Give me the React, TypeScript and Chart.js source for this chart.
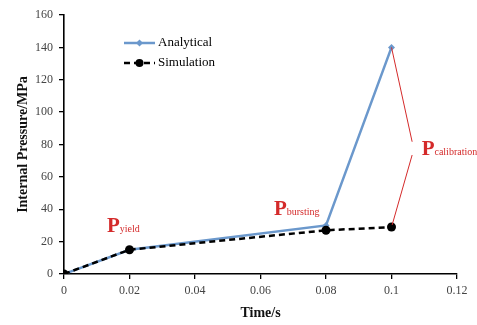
import React, { useEffect, useRef } from "react";
import { Chart, registerables } from "chart.js";

Chart.register(...registerables);

const times = [0, 0.02, 0.08, 0.1];
const analytical = [0, 15, 30, 140];
const simulation = [0, 15, 27, 29];
const xTicks = [0, 0.02, 0.04, 0.06, 0.08, 0.1, 0.12];
const yTicks = [0, 20, 40, 60, 80, 100, 120, 140, 160];

const seriesNames = ["Analytical", "Simulation"];
const annotations = [
  { x: 0.0131, y: 25.9, main: "P", sub: "yield" },
  { x: 0.0641, y: 36.4, main: "P", sub: "bursting" },
  { x: 0.1092, y: 73.5, main: "P", sub: "calibration" },
];
const calibLines = [
  [0.1, 140, 0.1063, 81.7],
  [0.1063, 73.5, 0.1002, 30.3],
];

const RED = "#d42a2a";
const BLUE = "#6b98cc";
const SERIF = "'Liberation Serif', 'DejaVu Serif', serif";

const overlayPlugin = {
  id: "overlay",
  afterDatasetsDraw(chart: any) {
    const ctx = chart.ctx;
    const xs = chart.scales.x;
    const ys = chart.scales.y;
    ctx.save();
    ctx.strokeStyle = RED;
    ctx.lineWidth = 1;
    for (const l of calibLines) {
      ctx.beginPath();
      ctx.moveTo(xs.getPixelForValue(l[0]), ys.getPixelForValue(l[1]));
      ctx.lineTo(xs.getPixelForValue(l[2]), ys.getPixelForValue(l[3]));
      ctx.stroke();
    }
    ctx.fillStyle = RED;
    ctx.textBaseline = "alphabetic";
    ctx.textAlign = "left";
    for (const a of annotations) {
      const px = xs.getPixelForValue(a.x);
      const py = ys.getPixelForValue(a.y);
      ctx.font = `bold 21px ${SERIF}`;
      ctx.fillText(a.main, px, py);
      const w = ctx.measureText(a.main).width;
      ctx.font = `10px ${SERIF}`;
      ctx.fillText(a.sub, px + w, py);
    }
    const lx = 124, lw = 31;
    const rows = [43, 63];
    ctx.strokeStyle = BLUE;
    ctx.lineWidth = 2.5;
    ctx.setLineDash([]);
    ctx.beginPath();
    ctx.moveTo(lx, rows[0]);
    ctx.lineTo(lx + lw, rows[0]);
    ctx.stroke();
    ctx.fillStyle = BLUE;
    ctx.beginPath();
    const cx = lx + lw / 2;
    ctx.moveTo(cx, rows[0] - 3.5);
    ctx.lineTo(cx + 3.5, rows[0]);
    ctx.lineTo(cx, rows[0] + 3.5);
    ctx.lineTo(cx - 3.5, rows[0]);
    ctx.closePath();
    ctx.fill();
    ctx.strokeStyle = "#000";
    ctx.lineWidth = 2.5;
    ctx.setLineDash([6, 4]);
    ctx.beginPath();
    ctx.moveTo(lx, rows[1]);
    ctx.lineTo(lx + lw, rows[1]);
    ctx.stroke();
    ctx.setLineDash([]);
    ctx.fillStyle = "#000";
    ctx.beginPath();
    ctx.arc(cx, rows[1], 4, 0, Math.PI * 2);
    ctx.fill();
    ctx.font = `13px ${SERIF}`;
    ctx.textBaseline = "middle";
    ctx.fillText(seriesNames[0], lx + lw + 3, rows[0]);
    ctx.fillText(seriesNames[1], lx + lw + 3, rows[1]);
    ctx.restore();
  },
};

export default function App() {
  const ref = useRef<HTMLCanvasElement>(null);
  useEffect(() => {
    document.body.style.margin = "0";
    const chart = new Chart(ref.current!, {
      type: "line",
      data: {
        datasets: [
          {
            label: seriesNames[0],
            data: times.map((t, i) => ({ x: t, y: analytical[i] })),
            borderColor: BLUE,
            backgroundColor: BLUE,
            borderWidth: 2.5,
            pointStyle: "rectRot",
            pointRadius: 3.5,
            pointBorderWidth: 0,
            tension: 0,
            order: 1,
          },
          {
            label: seriesNames[1],
            data: times.map((t, i) => ({ x: t, y: simulation[i] })),
            borderColor: "#000",
            backgroundColor: "#000",
            borderWidth: 2.5,
            borderDash: [6, 4],
            pointStyle: "circle",
            pointRadius: 4.5,
            pointBorderWidth: 0,
            tension: 0,
            order: 0,
          },
        ],
      },
      options: {
        animation: false,
        responsive: false,
        maintainAspectRatio: false,
        layout: { padding: { left: 0, right: 20, top: 15, bottom: 0 } },
        plugins: {
          legend: { display: false },
          tooltip: { enabled: false },
        },
        scales: {
          x: {
            type: "linear",
            min: 0,
            max: 0.12,
            afterBuildTicks: (s: any) => {
              s.ticks = xTicks.map((v) => ({ value: v }));
            },
            afterFit: (s: any) => {
              s.height = 51;
            },
            grid: {
              drawOnChartArea: false,
              drawTicks: true,
              tickLength: 5,
              color: "#000",
              lineWidth: 1.3,
            },
            border: { display: true, color: "#000", width: 1.6 },
            ticks: {
              color: "#444",
              font: { family: SERIF, size: 12 },
              padding: 5,
              maxRotation: 0,
              callback: (v: any) => String(Number(Number(v).toFixed(2))),
            },
            title: {
              display: true,
              text: "Time/s",
              color: "#111",
              font: { family: SERIF, size: 14, weight: "bold" },
              padding: { top: 2, bottom: 3 },
            },
          },
          y: {
            min: 0,
            max: 160,
            afterBuildTicks: (s: any) => {
              s.ticks = yTicks.map((v) => ({ value: v }));
            },
            afterFit: (s: any) => {
              s.width = 64;
            },
            grid: {
              drawOnChartArea: false,
              drawTicks: true,
              tickLength: 5,
              color: "#000",
              lineWidth: 1.3,
            },
            border: { display: true, color: "#000", width: 1.6 },
            ticks: {
              color: "#444",
              font: { family: SERIF, size: 12 },
              padding: 6,
            },
            title: {
              display: true,
              text: "Internal Pressure/MPa",
              color: "#111",
              font: { family: SERIF, size: 14, weight: "bold" },
              padding: { top: 15, bottom: 4 },
            },
          },
        },
      },
      plugins: [overlayPlugin],
    } as any);
    return () => chart.destroy();
  }, []);
  return (
    <div style={{ position: "relative", width: 477, height: 325, background: "#fff" }}>
      <canvas ref={ref} width={477} height={325} style={{ width: 477, height: 325 }} />
    </div>
  );
}
